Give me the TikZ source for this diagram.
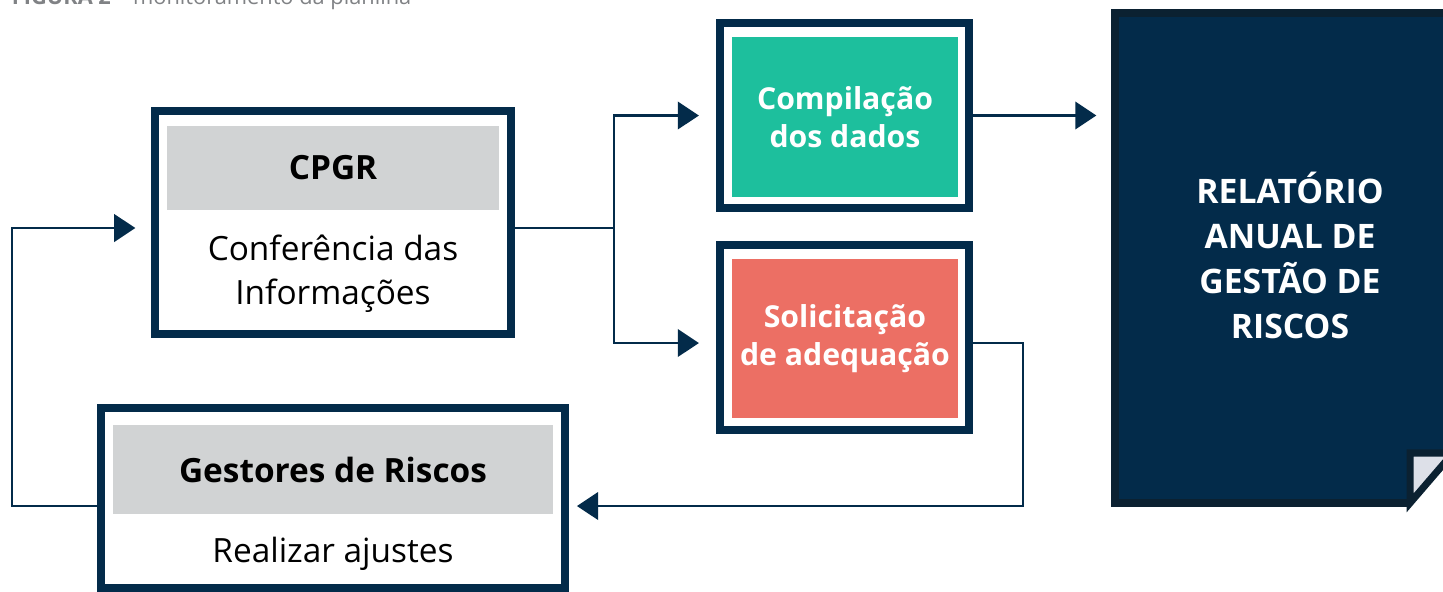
\documentclass[tikz,border=0pt]{standalone}
\usepackage{fontspec}
\setmainfont{Open Sans}
\usepackage{tikz}
\usetikzlibrary{arrows.meta,calc}

\definecolor{navy}{HTML}{032B4A}
\definecolor{navydark}{HTML}{0B2131}
\definecolor{boxgray}{HTML}{D1D3D4}
\definecolor{teal}{HTML}{1DBF9D}
\definecolor{salmon}{HTML}{EC6F64}
\definecolor{foldgray}{HTML}{DDE0E8}
\definecolor{capgray}{HTML}{808285}

\begin{document}
\begin{tikzpicture}
	\tikzstyle{every node} = [inner sep=0pt, outer sep=0pt, align=center]
	\tikzstyle{frame} = [rectangle, draw=navy, line width=2pt, fill=white]
	\tikzstyle{head} = [rectangle, fill=boxgray, font=\fontsize{9.5}{11}\selectfont\bfseries]
	\tikzstyle{inner} = [rectangle, text=white, font=\fontsize{8.6}{10.7}\selectfont\bfseries]
	\tikzstyle{body} = [font=\fontsize{9.5}{12.5}\selectfont]
	\tikzstyle{arr} = [draw=navy, line width=0.7pt, -{Triangle[length=6pt,width=7.8pt]}]
	\tikzstyle{line} = [draw=navy, line width=0.7pt]
	\useasboundingbox (0,0) rectangle (14.43,-5.91);

	% caption, cut by the page top
	\node[anchor=base west, text=capgray, font=\fontsize{6.2}{7}\selectfont] (cap) at (0.12,-0.04)
		{\textbf{FIGURA 2} – monitoramento da planilha};

	% report
	\node[rectangle, fill=navy, draw=navydark, line width=2pt, minimum width=3.45cm, minimum height=4.90cm] (rep) at (12.875,-2.58) {};
	\node[text=white, font=\fontsize{9.6}{12.8}\selectfont\bfseries] (rept) at (12.90,-2.55)
		{RELATÓRIO\\ANUAL DE\\GESTÃO DE\\RISCOS};
	\fill[white] (14.10,-5.03) -- (14.53,-4.53) -- (14.53,-5.20) -- (14.10,-5.20) -- cycle;
	\draw[navydark, line width=2pt, fill=foldgray, line join=miter] (14.10,-4.53) -- (14.53,-4.53) -- (14.10,-5.03) -- cycle;

	% boxes
	\node[frame, minimum width=3.56cm, minimum height=2.23cm] (cpgr) at (3.33,-2.225) {};
	\node[head, minimum width=3.32cm, minimum height=0.84cm] (cpgrh) at (3.33,-1.68) {CPGR};
	\node[body] (cpgrt) at (3.33,-2.74) {Conferência das\\Informações};

	\node[frame, minimum width=2.49cm, minimum height=1.85cm] (comp) at (8.445,-1.155) {};
	\node[inner, fill=teal, minimum width=2.26cm, minimum height=1.60cm] (compi) at (8.45,-1.17)
		{Compilação\\dos dados};

	\node[frame, minimum width=2.49cm, minimum height=1.85cm] (sol) at (8.445,-3.375) {};
	\node[inner, fill=salmon, minimum width=2.26cm, minimum height=1.59cm] (soli) at (8.45,-3.385)
		{Solicitação\\de adequação};

	\node[frame, minimum width=4.64cm, minimum height=1.80cm] (gest) at (3.33,-4.98) {};
	\node[head, minimum width=4.40cm, minimum height=0.89cm] (gesth) at (3.33,-4.695) {Gestores de Riscos};
	\node[body] (gestt) at (3.33,-5.54) {Realizar ajustes};

	% connectors
	\coordinate (split) at (6.14,-2.28);
	\coordinate (c1) at (10.23,-3.43);
	\coordinate (c2) at (10.23,-5.06);
	\coordinate (c3) at (0.12,-5.06);
	\coordinate (c4) at (0.12,-2.28);
	\draw[line] (cpgr.east |- split) -- (split);
	\draw[arr, shorten >=6pt] (split) |- (comp.west);
	\draw[arr, shorten >=6pt] (split) |- (comp.west |- c1);
	\draw[arr, shorten >=5.3pt] (comp.east) -- (rep.west |- comp.east);
	\draw[arr, shorten >=3.4pt] (sol.east |- c1) -- (c1) -- (c2) -- (c2 -| gest.east);
	\draw[arr, shorten >=5.6pt] (c3 -| gest.west) -- (c3) -- (c4) -- (c4 -| cpgr.west);
\end{tikzpicture}
\end{document}
